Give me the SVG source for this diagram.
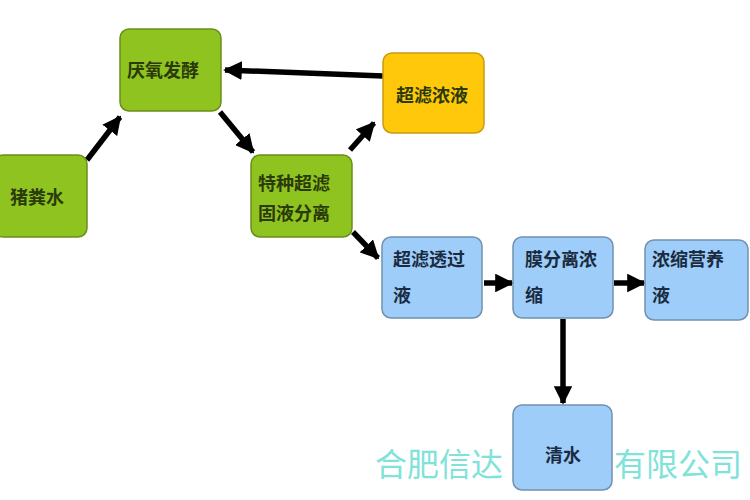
<svg xmlns="http://www.w3.org/2000/svg" width="750" height="500" viewBox="0 0 750 500">
<defs>
<marker id="ah" viewBox="0 0 10 10" refX="9" refY="5" markerWidth="3.4" markerHeight="3.4" orient="auto" markerUnits="strokeWidth">
<path d="M0,0 L10,5 L0,10 z" fill="#000"/>
</marker>
<style>
.g{fill:#8fc31f;stroke:#6a8f1a;stroke-width:1.5}
.y{fill:#ffc80a;stroke:#c99a10;stroke-width:1.5}
.b{fill:#9dcdf8;stroke:#7291b0;stroke-width:1.5}
.t{font-family:"Noto Sans CJK SC","Noto Sans",sans-serif;font-size:18px;font-weight:bold;fill:#2a3a0a}
.tb{font-family:"Noto Sans CJK SC","Noto Sans",sans-serif;font-size:18px;font-weight:bold;fill:#1a2a40}
.c{stroke:#000;stroke-width:5.5;fill:none;marker-end:url(#ah)}
.w{font-family:"Noto Sans CJK SC",sans-serif;font-size:32px;fill:#7fe3da}
</style>
</defs>
<rect width="750" height="500" fill="#fff"/>
<g id="watermark">
<text class="w" x="375" y="476">合肥信达</text>
<text class="w" x="614" y="476">有限公司</text>
</g>
<g id="connectors">
<line class="c" x1="87" y1="160" x2="120" y2="117"/>
<line class="c" x1="220" y1="112" x2="253" y2="152"/>
<line class="c" x1="383" y1="76" x2="225" y2="70"/>
<line class="c" x1="350" y1="150" x2="374" y2="123"/>
<line class="c" x1="353" y1="232" x2="378" y2="258"/>
<line class="c" x1="484" y1="283" x2="512" y2="283"/>
<line class="c" x1="614" y1="283" x2="644" y2="283"/>
<line class="c" x1="563" y1="319" x2="563" y2="403"/>
</g>
<g id="n1"><rect class="g" x="-6" y="155" width="93" height="82" rx="9"/><text class="t" x="10" y="204">猪粪水</text></g>
<g id="n2"><rect class="g" x="120" y="29" width="101" height="82" rx="9"/><text class="t" x="127" y="77">厌氧发酵</text></g>
<g id="n3"><rect class="g" x="251" y="155" width="101" height="82" rx="9"/><text class="t" x="258" y="190">特种超滤</text><text class="t" x="258" y="220">固液分离</text></g>
<g id="n4"><rect class="y" x="383" y="53" width="101" height="80" rx="9"/><text class="t" x="396" y="102">超滤浓液</text></g>
<g id="n5"><rect class="b" x="382" y="237" width="100" height="81" rx="9"/><text class="tb" x="393" y="266">超滤透过</text><text class="tb" x="393" y="302">液</text></g>
<g id="n6"><rect class="b" x="513" y="237" width="100" height="81" rx="9"/><text class="tb" x="525" y="266">膜分离浓</text><text class="tb" x="525" y="302">缩</text></g>
<g id="n7"><rect class="b" x="645" y="240" width="103" height="80" rx="9"/><text class="tb" x="652" y="266">浓缩营养</text><text class="tb" x="652" y="302">液</text></g>
<g id="n8"><rect class="b" x="513" y="405" width="99" height="85" rx="9"/><text class="tb" x="545" y="462">清水</text></g>
</svg>
